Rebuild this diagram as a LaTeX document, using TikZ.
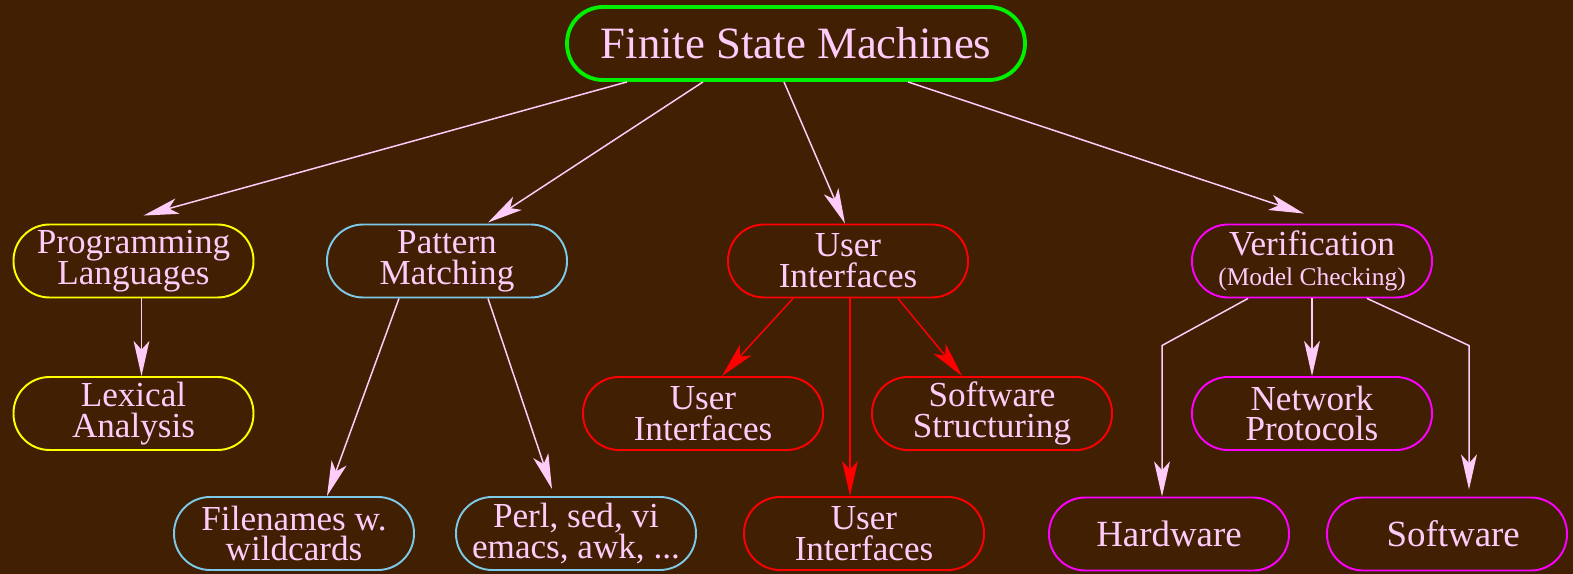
\documentclass[tikz,border=0pt]{standalone}
\usepackage{fontspec}
\setmainfont{Liberation Serif}
\usepackage{tikz}
\usepackage{xcolor}
\usetikzlibrary{calc,positioning,arrows.meta}

\definecolor{bgbrown}{RGB}{64,31,3}
\definecolor{pinktext}{RGB}{255,204,250}
\definecolor{skyline}{RGB}{126,200,232}
\definecolor{rootgreen}{RGB}{0,240,0}
\definecolor{boxyellow}{RGB}{255,255,0}
\definecolor{boxred}{RGB}{255,0,0}
\definecolor{boxmagenta}{RGB}{255,0,255}

\tikzset{
	box/.style={draw, line width=1.1pt, rounded corners=0.72cm, minimum width=4.8cm,
		minimum height=1.46cm, text=pinktext, align=center, inner sep=0pt,
		font=\fontsize{20}{17.5}\selectfont},
	edge/.style={draw=pinktext, line width=0.85pt,
		-{Stealth[length=20pt,width=9pt,inset=5pt,fill=pinktext]}},
	rededge/.style={edge, draw=boxred, -{Stealth[length=20pt,width=9pt,inset=5pt,fill=boxred]}}
}

\begin{document}
\begin{tikzpicture}[x=0.02cm,y=-0.02cm]
			\useasboundingbox (0,0) rectangle (1573,574);
			\fill[bgbrown] (0,0) rectangle (1573,574);
			
			%%root%%
			\node[box, draw=rootgreen, line width=2.2pt, minimum width=9.16cm,
				font=\fontsize{25.5}{30}\selectfont] (fsm) at (796,43.5) {Finite State Machines};
			
			%%programming languages%%
			\node[box, draw=boxyellow] (pl) at (133.5,261) {Programming\\Languages};
			\node[box, draw=boxyellow] (la) at (133.5,413.5) {Lexical\\Analysis};
			
			%%pattern matching%%
			\node[box, draw=skyline] (pm) at (447,261) {Pattern\\Matching};
			\node[box, draw=skyline] (fn) at (294,533.5) {Filenames w.\\wildcards};
			\node[box, draw=skyline] (perl) at (576,533.5) {Perl, sed, vi\\emacs, awk, ...};
			
			%%user interfaces%%
			\node[box, draw=boxred] (ui) at (848,261) {User\\Interfaces};
			\node[box, draw=boxred] (uil) at (703,413.5) {User\\Interfaces};
			\node[box, draw=boxred] (ss) at (992,413.5) {Software\\Structuring};
			\node[box, draw=boxred] (uib) at (864,533.5) {User\\Interfaces};
			
			%%verification%%
			\node[box, draw=boxmagenta] (ver) at (1312,261) {Verification\\{\fontsize{14.5}{17.5}\selectfont(Model Checking)}};
			\node[box, draw=boxmagenta] (np) at (1312,413.5) {Network\\Protocols};
			\node[box, draw=boxmagenta, font=\fontsize{21}{24}\selectfont] (hw) at (1169,534) {Hardware};
			\node[box, draw=boxmagenta, font=\fontsize{21}{24}\selectfont] (sw) at (1447,534) {\hspace*{0.25cm}Software};
			
			%%arrows from the root%%
			\draw[edge] ($(fsm.south)+(-169,0)$) -- ($(pl.north)+(10,-8)$);
			\draw[edge] ($(fsm.south)+(-93,0)$) -- ($(pm.north)+(41,-1)$);
			\draw[edge] ($(fsm.south)+(-12,0)$) -- ($(ui.north)+(-3,0)$);
			\draw[edge] ($(fsm.south)+(112,0)$) -- ($(ver.north)+(-8,-10)$);
			
			\draw[edge] ($(pl.south)+(8,0)$) -- ($(la.north)+(8,0)$);
			
			\draw[edge] ($(pm.south)+(-48,0)$) -- ($(fn.north)+(33,0)$);
			\draw[edge] ($(pm.south)+(41,0)$) -- ($(perl.north)+(-24,-7)$);
			
			\draw[rededge] ($(ui.south)+(-55,0)$) -- ($(uil.north)+(19,0)$);
			\draw[rededge] ($(ui.south)+(2,0)$) -- ($(uib.north)+(-14,0)$);
			\draw[rededge] ($(ui.south)+(50,0)$) -- ($(ss.north)+(-30,0)$);
			
			\draw[edge] (ver.south) -- (np.north);
			\draw[edge] ($(ver.south)+(-64,0)$) -- ($(hw.north)+(-7,-151)$) -- ($(hw.north)+(-7,0)$);
			\draw[edge] ($(ver.south)+(55,0)$) -- ($(sw.north)+(22,-151)$) -- ($(sw.north)+(22,-7)$);
		\end{tikzpicture}
\end{document}
